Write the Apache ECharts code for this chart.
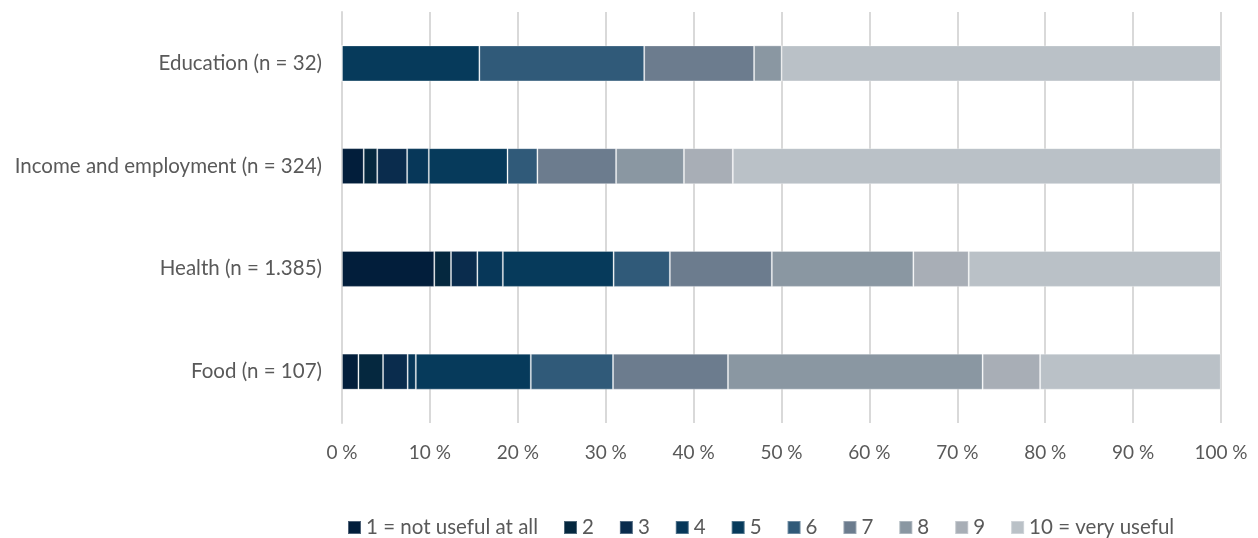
<!DOCTYPE html>
<html>
<head>
<meta charset="utf-8">
<style>
  html, body { margin: 0; padding: 0; background: #ffffff; }
  #chart { width: 1258px; height: 538px; }
</style>
<script src="https://cdn.jsdelivr.net/npm/echarts@6/dist/echarts.min.js"></script>
</head>
<body>
<div id="chart"></div>
<script>
// Topics, listed top to bottom
const categories = ['Education (n = 32)', 'Income and employment (n = 324)', 'Health (n = 1.385)', 'Food (n = 107)'];

// Rating scale names (legend order)
const ratingNames = ['1 = not useful at all', '2', '3', '4', '5', '6', '7', '8', '9', '10 = very useful'];

// Share of answers (%) per rating, one array per rating, in category order
const rating1  = [0,     2.47, 10.5,  1.87];
const rating2  = [0,     1.54,  1.9,  2.80];
const rating3  = [0,     3.40,  3.0,  2.80];
const rating4  = [0,     2.47,  2.9,  0.93];
const rating5  = [15.63, 8.95, 12.6, 13.08];
const rating6  = [18.75, 3.40,  6.4,  9.35];
const rating7  = [12.50, 8.95, 11.6, 13.08];
const rating8  = [3.13,  7.72, 16.1, 28.97];
const rating9  = [0,     5.56,  6.3,  6.54];
const rating10 = [50.00, 55.56, 28.7, 20.56];

const ratingValues = [rating1, rating2, rating3, rating4, rating5, rating6, rating7, rating8, rating9, rating10];

// Colour ramp from dark navy to light grey
const ratingColors = ['#021e3b', '#05283f', '#0a2c4d', '#073759', '#063a5b', '#305a79', '#6c7c8e', '#8a97a2', '#a8aeb6', '#bac1c7'];

// X axis tick values (%)
const xTicks = [0, 10, 20, 30, 40, 50, 60, 70, 80, 90, 100];

const textColor = '#595959';
const fontFamily = 'Lato, Open Sans, sans-serif';

const chart = echarts.init(document.getElementById('chart'), null, { renderer: 'canvas' });

const series = ratingNames.map((name, i) => ({
  name: name,
  type: 'bar',
  stack: 'total',
  barWidth: 36,
  data: ratingValues[i],
  itemStyle: {
    color: ratingColors[i],
    borderColor: 'rgba(255,255,255,0.3)',
    borderWidth: 1
  },
  emphasis: { disabled: true }
}));

chart.setOption({
  animation: false,
  backgroundColor: '#ffffff',
  textStyle: { fontFamily: fontFamily },
  grid: { left: 342, right: 37, top: 12, bottom: 115, containLabel: false },
  xAxis: {
    type: 'value',
    min: xTicks[0],
    max: xTicks[xTicks.length - 1],
    interval: 10,
    axisLine: { show: false },
    axisTick: { show: false },
    splitLine: { show: true, lineStyle: { color: '#d9d9d9', width: 2 } },
    axisLabel: {
      color: textColor,
      fontSize: 19,
      margin: 20,
      fontFamily: fontFamily,
      formatter: v => v + ' %'
    }
  },
  yAxis: {
    type: 'category',
    inverse: true,
    data: categories,
    axisLine: { show: true, lineStyle: { color: '#d9d9d9', width: 2 } },
    axisTick: { show: false },
    axisLabel: { color: textColor, fontSize: 20.5, margin: 20, fontFamily: fontFamily }
  },
  legend: {
    top: 512,
    left: 342,
    itemWidth: 13,
    itemHeight: 13,
    itemGap: 25,
    icon: 'rect',
    textStyle: { color: textColor, fontSize: 20.5, fontFamily: fontFamily },
    data: ratingNames
  },
  series: series
});
</script>
</body>
</html>
